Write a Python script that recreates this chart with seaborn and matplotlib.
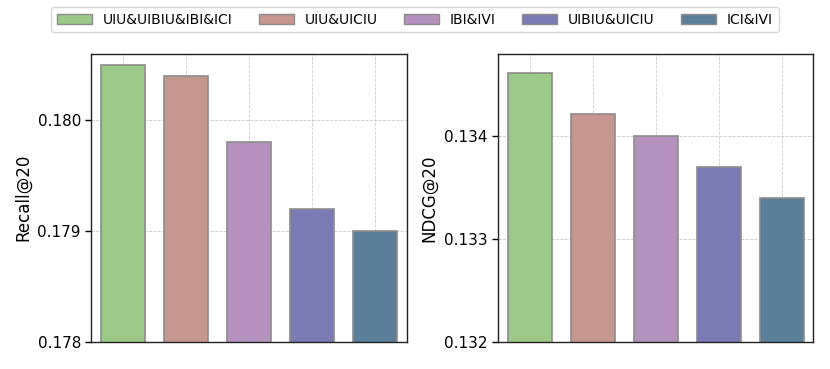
import pandas as pd
import seaborn as sns
import matplotlib.pyplot as plt
from matplotlib.patches import Patch

# data
variants = ['UIU&UIBIU&IBI&ICI', 'UIU&UICIU', 'IBI&IVI', 'UIBIU&UICIU', 'ICI&IVI']
recall = [0.18050, 0.18040, 0.17980, 0.17920, 0.17900]
ndcg = [0.13461, 0.13421, 0.13400, 0.13370, 0.13340]
colors = ['#9cc987', '#c6978c', '#b592be', '#7a7bb5', '#5c7f99']

df = pd.DataFrame({'variant': variants, 'Recall@20': recall, 'NDCG@20': ndcg})

sns.set_style('white')
plt.rcParams['font.family'] = ['DejaVu Sans']
plt.rcParams['text.color'] = 'black'
plt.rcParams['axes.labelcolor'] = 'black'
plt.rcParams['ytick.color'] = 'black'

fig, axes = plt.subplots(1, 2, figsize=(8.3, 3.69), dpi=100)
fig.subplots_adjust(left=0.11, right=0.98, top=0.855, bottom=0.073, wspace=0.29)

panels = [('Recall@20', (0.178, 0.1806), [0.178, 0.179, 0.180]),
          ('NDCG@20', (0.132, 0.1348), [0.132, 0.133, 0.134])]

for ax, (metric, ylim, ticks) in zip(axes, panels):
    sns.barplot(data=df, x='variant', y=metric, hue='variant', palette=colors,
                order=variants, hue_order=variants, width=0.7, legend=False,
                saturation=1, edgecolor='#8c8c8c', linewidth=1.2, ax=ax)
    ax.set_ylim(*ylim)
    ax.set_yticks(ticks)
    ax.set_yticklabels([f'{t:.3f}' for t in ticks], fontsize=11)
    ax.set_xticklabels([])
    ax.set_xlabel('')
    ax.set_ylabel(metric, fontsize=12)
    ax.grid(True, linestyle='--', linewidth=0.6, color='#bbbbbb', alpha=0.8)
    ax.set_axisbelow(True)
    ax.tick_params(axis='y', left=True, length=4, width=1, colors='black')
    ax.tick_params(axis='x', bottom=False)
    for s in ax.spines.values():
        s.set_color('#222222')
        s.set_linewidth(1)

handles = [Patch(facecolor=c, edgecolor='#8c8c8c', label=v) for c, v in zip(colors, variants)]
fig.legend(handles=handles, loc='upper center', ncol=5, bbox_to_anchor=(0.5, 1.0),
           fontsize=10, frameon=True, handlelength=2.5, columnspacing=1.9,
           fancybox=True, edgecolor='#cccccc')

plt.savefig('out.png', dpi=100)
plt.close()
